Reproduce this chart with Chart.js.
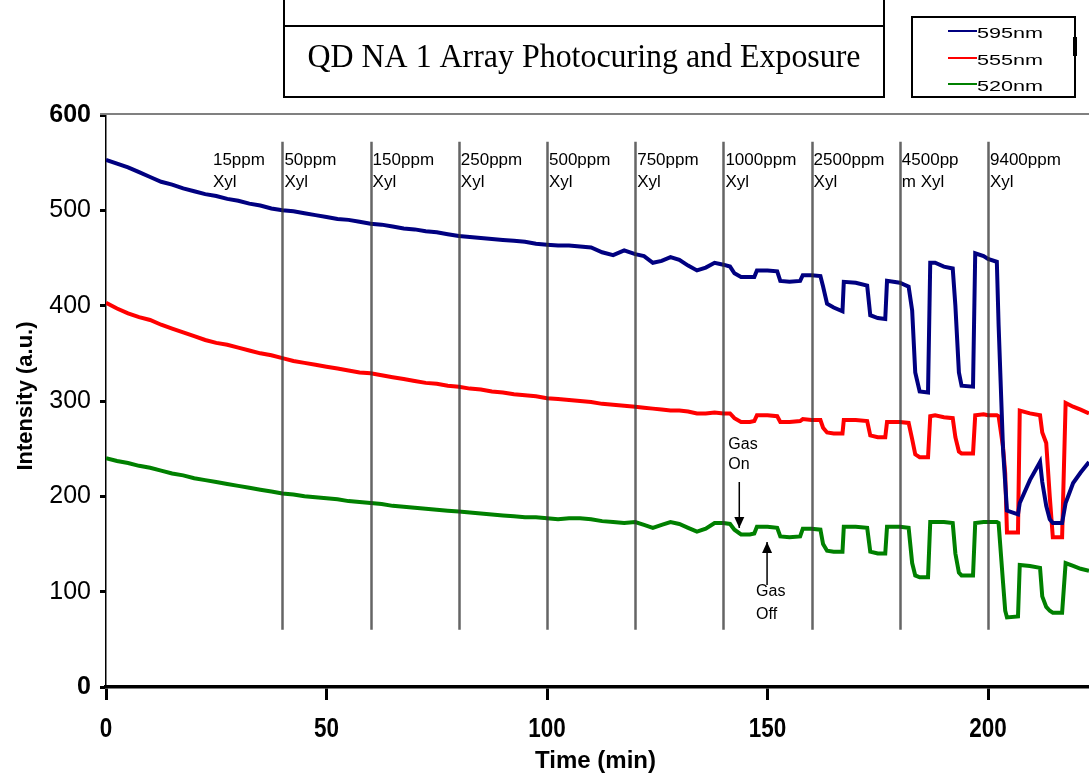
<!DOCTYPE html>
<html><head><meta charset="utf-8">
<script src="https://cdn.jsdelivr.net/npm/chart.js@4/dist/chart.umd.min.js"></script>
<style>html,body{margin:0;padding:0;background:#fff;}canvas{display:block;}</style>
</head><body>
<canvas id="c" width="1089" height="774"></canvas>
<script>
// ---------- DATA ----------
const chartTitle = 'QD NA 1 Array Photocuring and Exposure';
const xTitle = 'Time (min)';
const yTitle = 'Intensity (a.u.)';
const seriesNames = ['595nm', '555nm', '520nm'];
const seriesColors = ['#000080', '#ff0000', '#008000'];
const xTickValues = [0, 50, 100, 150, 200];
const yTickValues = [0, 100, 200, 300, 400, 500, 600];

// [time (min), intensity (a.u.)]
const blue595 = [
 [0,553],[2.5,549],[5,545],[7.5,540],[10,535],[12.5,530],[15,527],[17.5,523],[20,520],[22.5,517],
 [25,515],[27.5,512],[30,510],[32.5,507],[35,505],[37.5,502],[40,500],[42.5,499],[45,497],[47.5,495],
 [50,493],[52.5,491],[55,490],[57.5,488],[60,486],[62.5,485],[65,483],[67.5,481],[70,480],[72.5,478],
 [75,477],[77.5,475],[80,473],[82.5,472],[85,471],[87.5,470],[90,469],[92.5,468],[95,467],[97.5,465],
 [100,464],[102.5,463],[105,463],[107.5,462],[110,461],[112.5,456],[115,453],[117.5,458],[120,454],[122,452],
 [124,445],[126,447],[128,451],[130,448],[132,442],[134,437],[136,440],[138,445],[140,443],[141.5,441],
 [142.5,434],[144,430],[146,430],[147,430],[147.6,437],[150,437],[152.2,436],[152.9,426],[155,425],[157.4,426],
 [158,432],[160,432],[162,431],[162.6,420],[163.5,402],[165,398],[167,394],[167.3,425],[170,424],[172.6,421],
 [173.3,390],[175,387],[176.7,386],[177.1,426],[180,424],[182,420],[182.8,395],[183.5,330],[184.5,310],[186.4,309],
 [186.9,445],[188,445],[190,441],[192,439],[192.6,400],[193.4,330],[194,316],[196.6,315],[197.1,455],[199,452],
 [200,449],[202,446],[202.4,380],[203.4,250],[204.3,185],[206.8,181],[207.2,193],[209.5,217],[211.8,236],[212.3,215],
 [213.2,190],[214,176],[214.7,172],[216.8,172],[217.6,193],[219.3,214],[221,225],[222.9,236]
];
const red555 = [
 [0,403],[2.5,397],[5,392],[7.5,388],[10,385],[12.5,380],[15,376],[17.5,372],[20,368],[22.5,364],
 [25,361],[27.5,359],[30,356],[32.5,353],[35,350],[37.5,348],[40,345],[42.5,342],[45,340],[47.5,338],
 [50,336],[52.5,334],[55,332],[57.5,330],[60,329],[62.5,327],[65,325],[67.5,323],[70,321],[72.5,319],
 [75,318],[77.5,316],[80,315],[82.5,313],[85,312],[87.5,310],[90,309],[92.5,307],[95,306],[97.5,305],
 [100,303],[102.5,302],[105,301],[107.5,300],[110,299],[112.5,297],[115,296],[117.5,295],[120,294],[122,293],
 [124,292],[126,291],[128,290],[130,290],[132,289],[134,287],[136,287],[138,288],[140,287],[141.5,287],
 [142.5,282],[144,278],[146,278],[147,279],[147.6,285],[150,285],[152.2,284],[152.9,278],[155,278],[157.4,279],
 [158,281],[160,280],[162,280],[162.6,272],[163.5,267],[165,266],[167,266],[167.3,280],[170,280],[172.6,279],
 [173.3,264],[175,262],[176.7,262],[177.1,278],[180,278],[182,277],[182.8,260],[183.5,244],[184.5,241],[186.4,241],
 [186.9,284],[188,285],[190,283],[192,282],[192.6,262],[193.4,247],[194,245],[196.6,245],[197.1,285],[199,286],
 [200,285],[202,285],[202.4,284],[203.4,252],[203.9,224],[204.3,162],[206.8,162],[207.2,290],[209.5,287],[211.8,285],
 [212.3,267],[213.2,256],[214,200],[214.7,157],[216.8,157],[217.6,298],[219.3,294],[221,291],[222.9,287]
];
const green520 = [
 [0,240],[2.5,237],[5,235],[7.5,232],[10,230],[12.5,227],[15,224],[17.5,222],[20,219],[22.5,217],
 [25,215],[27.5,213],[30,211],[32.5,209],[35,207],[37.5,205],[40,203],[42.5,202],[45,200],[47.5,199],
 [50,198],[52.5,197],[55,195],[57.5,194],[60,193],[62.5,192],[65,190],[67.5,189],[70,188],[72.5,187],
 [75,186],[77.5,185],[80,184],[82.5,183],[85,182],[87.5,181],[90,180],[92.5,179],[95,178],[97.5,178],
 [100,177],[102.5,176],[105,177],[107.5,177],[110,176],[112.5,174],[115,173],[117.5,172],[120,173],[122,170],
 [124,167],[126,170],[128,173],[130,171],[132,167],[134,163],[136,166],[138,172],[140,172],[141.5,171],
 [142.5,165],[144,160],[146,160],[147,161],[147.6,168],[150,168],[152.2,167],[152.9,158],[155,157],[157.4,158],
 [158,166],[160,166],[162,165],[162.6,150],[163.5,143],[165,142],[167,142],[167.3,168],[170,168],[172.6,167],
 [173.3,142],[175,140],[176.7,140],[177.1,168],[180,168],[182,167],[182.8,130],[183.5,117],[184.5,115],[186.4,115],
 [186.9,173],[188,173],[190,173],[192,172],[192.6,140],[193.4,120],[194,117],[196.6,117],[197.1,172],[199,173],
 [200,173],[202,173],[202.4,172],[203.4,110],[203.9,80],[204.3,73],[206.8,74],[207.2,128],[209.5,127],[211.8,125],
 [212.3,95],[213.2,84],[214,80],[214.7,78],[216.8,78],[217.6,130],[219.3,127],[221,124],[222.9,122]
];

// gas exposure markers (min) and their labels
const eventTimes = [40, 60, 80, 100, 120, 140, 160, 180, 200];
const labelTimes = [23.8, 40, 60, 80, 100, 120, 140, 160, 180, 200];
const labelLine1 = ['15ppm','50ppm','150ppm','250ppm','500ppm','750ppm','1000ppm','2500ppm','4500pp','9400ppm'];
const labelLine2 = ['Xyl','Xyl','Xyl','Xyl','Xyl','Xyl','Xyl','Xyl','m Xyl','Xyl'];
const gasOnTime = 143.6;
const gasOffTime = 149.9;

// ---------- LAYOUT (pixels / styles) ----------
const L = {
  markerTop: 572, markerBottom: 60,           // in value units
  labelY1: 160, labelY2: 182, labelDx: 2,      // pixel
  gasOn: {textY1: 445, textY2: 465, arrowFrom: 482, arrowTo: 528, textDx: -11},
  gasOff: {textY1: 592, textY2: 615, arrowFrom: 585, arrowTo: 542, textDx: -11},
  titleBox: {x0: 284, x1: 884, y0: -1, y1: 97, mid: 26, textW: 553, baseline: 67},
  legend: {x0: 912, x1: 1075, y0: 17, y1: 97, lx0: 948, lx1: 977, tx: 977, tw: 66, rows: [33, 60, 86]}
};
const SANS = '"Liberation Sans", Arial, Helvetica, sans-serif';

function fitText(ctx, text, x, y, font, width, align) {
  ctx.save();
  ctx.font = font;
  const w = ctx.measureText(text).width;
  const s = width / w;
  ctx.translate(x, y);
  ctx.scale(s, 1);
  ctx.textAlign = align || 'left';
  ctx.fillText(text, 0, 0);
  ctx.restore();
}
function arrow(ctx, x, yFrom, yTo) {
  ctx.beginPath(); ctx.moveTo(x, yFrom); ctx.lineTo(x, yTo); ctx.stroke();
  const d = yTo > yFrom ? 1 : -1;
  ctx.beginPath(); ctx.moveTo(x, yTo); ctx.lineTo(x - 5, yTo - d * 11); ctx.lineTo(x + 5, yTo - d * 11); ctx.closePath(); ctx.fill();
}

const deco = {
  id: 'deco',
  afterDatasetsDraw(chart) {
    const {ctx, scales: {x, y}} = chart;
    ctx.save();
    ctx.strokeStyle = 'rgba(50,50,50,0.75)';
    ctx.lineWidth = 2.5;
    eventTimes.forEach(t => {
      const px = Math.round(x.getPixelForValue(t)) + 0.5;
      ctx.beginPath();
      ctx.moveTo(px, y.getPixelForValue(L.markerTop));
      ctx.lineTo(px, y.getPixelForValue(L.markerBottom));
      ctx.stroke();
    });
    // labels
    ctx.fillStyle = '#000';
    ctx.font = '17px ' + SANS;
    ctx.textBaseline = 'middle';
    ctx.textAlign = 'left';
    labelTimes.forEach((t, i) => {
      const px = x.getPixelForValue(t) + L.labelDx;
      ctx.fillText(labelLine1[i], px, L.labelY1);
      ctx.fillText(labelLine2[i], px, L.labelY2);
    });
    // gas on / off
    ctx.font = '16px ' + SANS;
    ctx.strokeStyle = '#000'; ctx.lineWidth = 1.5;
    const xOn = x.getPixelForValue(gasOnTime);
    ctx.fillText('Gas', xOn + L.gasOn.textDx, L.gasOn.textY1);
    ctx.fillText('On', xOn + L.gasOn.textDx, L.gasOn.textY2);
    arrow(ctx, xOn, L.gasOn.arrowFrom, L.gasOn.arrowTo);
    const xOff = x.getPixelForValue(gasOffTime);
    ctx.fillText('Gas', xOff + L.gasOff.textDx, L.gasOff.textY1);
    ctx.fillText('Off', xOff + L.gasOff.textDx, L.gasOff.textY2);
    arrow(ctx, xOff, L.gasOff.arrowFrom, L.gasOff.arrowTo);
    ctx.restore();
  },
  afterDraw(chart) {
    const {ctx, chartArea: ca, scales: {x}} = chart;
    ctx.save();
    // top frame line
    ctx.strokeStyle = '#808080'; ctx.lineWidth = 2;
    ctx.beginPath(); ctx.moveTo(100, ca.top - 1); ctx.lineTo(ca.right, ca.top - 1); ctx.stroke();
    // x tick labels
    ctx.fillStyle = '#000';
    ctx.textBaseline = 'alphabetic';
    xTickValues.forEach(v => {
      fitText(ctx, String(v), x.getPixelForValue(v), 737, 'bold 28px ' + SANS, String(v).length * 12.5, 'center');
    });
    // axis titles
    ctx.font = 'bold 24px ' + SANS;
    ctx.textAlign = 'center';
    ctx.fillText(xTitle, (ca.left + ca.right) / 2 - 2, 768);
    ctx.save();
    ctx.translate(32, (ca.top + ca.bottom) / 2 - 5);
    ctx.rotate(-Math.PI / 2);
    ctx.font = 'bold 22px ' + SANS;
    ctx.fillText(yTitle, 0, 0);
    ctx.restore();
    // title box
    const tb = L.titleBox;
    ctx.strokeStyle = '#000'; ctx.lineWidth = 2;
    ctx.strokeRect(tb.x0, tb.y0, tb.x1 - tb.x0, tb.y1 - tb.y0);
    ctx.beginPath(); ctx.moveTo(tb.x0, tb.mid); ctx.lineTo(tb.x1, tb.mid); ctx.stroke();
    ctx.fillStyle = '#000';
    fitText(ctx, chartTitle, (tb.x0 + tb.x1) / 2, tb.baseline, '34px "Liberation Serif", "Times New Roman", serif', tb.textW, 'center');
    // legend
    const lg = L.legend;
    ctx.lineWidth = 2;
    ctx.strokeRect(lg.x0, lg.y0, lg.x1 - lg.x0, lg.y1 - lg.y0);
    ctx.fillRect(lg.x1 - 2, 37, 4, 19);
    seriesNames.forEach((n, i) => {
      const yy = lg.rows[i];
      ctx.strokeStyle = seriesColors[i]; ctx.lineWidth = 2;
      ctx.beginPath(); ctx.moveTo(lg.lx0, yy - 2); ctx.lineTo(lg.lx1, yy - 2); ctx.stroke();
      ctx.fillStyle = '#000';
      ctx.textBaseline = 'middle';
      fitText(ctx, n, lg.tx, yy + 1, '15px ' + SANS, lg.tw, 'left');
    });
    ctx.restore();
  }
};

const mk = arr => arr.map(([t, v]) => ({x: t, y: v}));
const datasets = [blue595, red555, green520].map((arr, i) => ({
  label: seriesNames[i],
  data: mk(arr),
  borderColor: seriesColors[i],
  backgroundColor: seriesColors[i],
  borderWidth: 4,
  pointRadius: 0,
  tension: 0,
  fill: false
}));

new Chart(document.getElementById('c'), {
  type: 'line',
  data: {datasets},
  plugins: [deco],
  options: {
    responsive: false,
    animation: false,
    devicePixelRatio: 1,
    layout: {padding: {top: 115, right: 0, left: 0, bottom: 0}},
    plugins: {legend: {display: false}, tooltip: {enabled: false}, title: {display: false}},
    scales: {
      x: {
        type: 'linear', min: 0, max: 222.9,
        afterFit: s => { s.height = 87; },
        afterBuildTicks: s => { s.ticks = xTickValues.map(v => ({value: v})); },
        ticks: {display: false, includeBounds: false},
        grid: {display: true, drawOnChartArea: false, drawTicks: true, tickLength: 13, tickWidth: 3, tickColor: '#000'},
        border: {display: true, color: '#000', width: 3.5}
      },
      y: {
        type: 'linear', min: 0, max: 600,
        afterFit: s => { s.width = 106; },
        afterBuildTicks: s => { s.ticks = yTickValues.map(v => ({value: v})); },
        ticks: {
          color: '#000', padding: 9,
          font: c => ({family: SANS, size: 25, weight: (c.tick && (c.tick.value === 0 || c.tick.value === 600)) ? 'bold' : 'normal'})
        },
        grid: {display: true, drawOnChartArea: false, drawTicks: true, tickLength: 6, tickWidth: 3, tickColor: '#000'},
        border: {display: true, color: '#000', width: 1.5}
      }
    }
  }
});
</script>
</body></html>
